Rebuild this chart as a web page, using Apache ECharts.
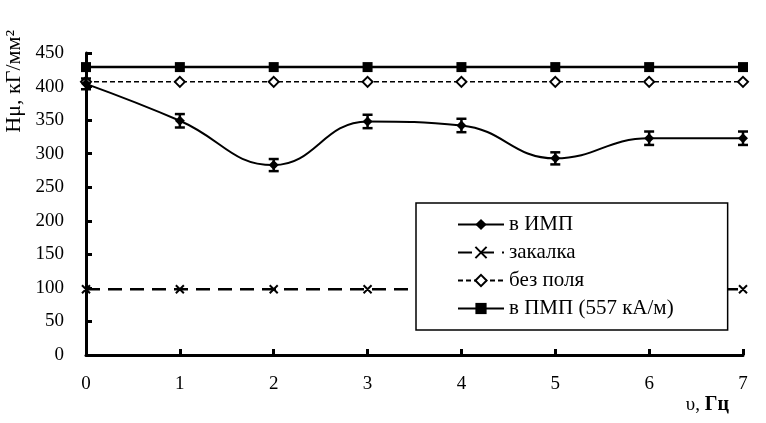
<!DOCTYPE html>
<html lang="ru">
<head>
    <meta charset="UTF-8">
    <title>Hμ</title>
    <script src="https://cdn.jsdelivr.net/npm/echarts@6/dist/echarts.min.js"></script>
    <style>
        html, body { margin: 0; padding: 0; background: #fff; }
        #chart { width: 766px; height: 423px; }
    </style>
</head>
<body>
<div id="chart"></div>
<script type="text/javascript">
    // частота, Гц
    var freq = [0, 1, 2, 3, 4, 5, 6, 7];
    // микротвердость, кГ/мм2
    var imp = [404, 349, 283, 348, 342, 293, 323, 323];
    var impErr = [8, 10, 9, 10, 10, 9, 10, 10];
    var zakalka = [98, 98, 98, 98, 98, 98, 98, 98];
    var bezPolya = [407, 407, 407, 407, 407, 407, 407, 407];
    var pmp = [429, 429, 429, 429, 429, 429, 429, 429];

    function pairs(arr) {
        return freq.map(function (x, i) { return [x, arr[i]]; });
    }
    var errData = freq.map(function (x, i) { return [x, imp[i] - impErr[i], imp[i] + impErr[i]]; });

    var crossPath = 'path://M0,0 L10,10 M10,0 L0,10 M0,0 L10,10 Z';

    var chart = echarts.init(document.getElementById('chart'));
    chart.setOption({
        animation: false,
        textStyle: { fontFamily: 'Liberation Serif', color: '#000' },
        grid: { left: 86, right: 23, top: 53, bottom: 68 },
        graphic: [{
            type: 'text', left: 3, top: 30, rotation: Math.PI / 2,
            style: { text: 'Hμ, кГ/мм²', font: '22px "Liberation Serif"', fill: '#000' }
        }],
        xAxis: {
            type: 'value', min: 0, max: 7, interval: 1,
            name: '{n|υ, }{b|Гц}', nameLocation: 'end', nameGap: 0,
            nameTextStyle: {
                rich: {
                    n: { fontFamily: 'Liberation Serif', fontSize: 19, color: '#000' },
                    b: { fontFamily: 'Liberation Serif', fontSize: 20, fontWeight: 'bold', color: '#000' }
                },
                align: 'right', verticalAlign: 'top', padding: [40, 14, 0, 0]
            },
            axisLine: { lineStyle: { color: '#000', width: 3 } },
            axisTick: { inside: true, length: 6, lineStyle: { color: '#000', width: 3 } },
            axisLabel: { fontSize: 19, color: '#000', margin: 20 },
            splitLine: { show: false }
        },
        yAxis: {
            type: 'value', min: 0, max: 450, interval: 50,
            axisLine: { show: true, lineStyle: { color: '#000', width: 3 } },
            axisTick: { show: true, inside: true, length: 6, lineStyle: { color: '#000', width: 3 } },
            axisLabel: { fontSize: 19, color: '#000', margin: 22 },
            splitLine: { show: false }
        },
        legend: {
            orient: 'vertical', left: 416, top: 203,
            backgroundColor: '#fff', borderColor: '#000', borderWidth: 1.5, borderRadius: 0,
            padding: [11, 54, 11, 41], itemGap: 7, itemWidth: 46, itemHeight: 14,
            textStyle: { fontFamily: 'Liberation Serif', fontSize: 21, color: '#000' },
            data: ['в ИМП', 'закалка', 'без поля', 'в ПМП (557 кА/м)']
        },
        series: [
            {
                name: 'в ИМП', type: 'line', smooth: 0.45, data: pairs(imp),
                symbol: 'diamond', symbolSize: 10, z: 5,
                lineStyle: { color: '#000', width: 2 },
                itemStyle: { color: '#000' }
            },
            {
                name: 'закалка', type: 'line', data: pairs(zakalka),
                symbol: crossPath, symbolSize: 8,
                lineStyle: { color: '#000', width: 2.5, type: [14, 8] },
                itemStyle: { color: '#fff', borderColor: '#000', borderWidth: 2 }
            },
            {
                name: 'без поля', type: 'line', data: pairs(bezPolya),
                symbol: 'diamond', symbolSize: 10,
                lineStyle: { color: '#000', width: 1.5, type: [5, 3] },
                itemStyle: { color: '#fff', borderColor: '#000', borderWidth: 2 }
            },
            {
                name: 'в ПМП (557 кА/м)', type: 'line', data: pairs(pmp),
                symbol: 'rect', symbolSize: 10,
                lineStyle: { color: '#000', width: 2.5 },
                itemStyle: { color: '#000' }
            },
            {
                type: 'custom', name: 'err', data: errData, z: 6,
                renderItem: function (params, api) {
                    var x = api.value(0);
                    var lo = api.coord([x, api.value(1)]);
                    var hi = api.coord([x, api.value(2)]);
                    var w = 5;
                    var st = { stroke: '#000', lineWidth: 2.5 };
                    return {
                        type: 'group',
                        children: [
                            { type: 'line', shape: { x1: lo[0], y1: lo[1], x2: hi[0], y2: hi[1] }, style: st },
                            { type: 'line', shape: { x1: lo[0] - w, y1: lo[1], x2: lo[0] + w, y2: lo[1] }, style: st },
                            { type: 'line', shape: { x1: hi[0] - w, y1: hi[1], x2: hi[0] + w, y2: hi[1] }, style: st }
                        ]
                    };
                }
            }
        ]
    });
</script>
</body>
</html>
